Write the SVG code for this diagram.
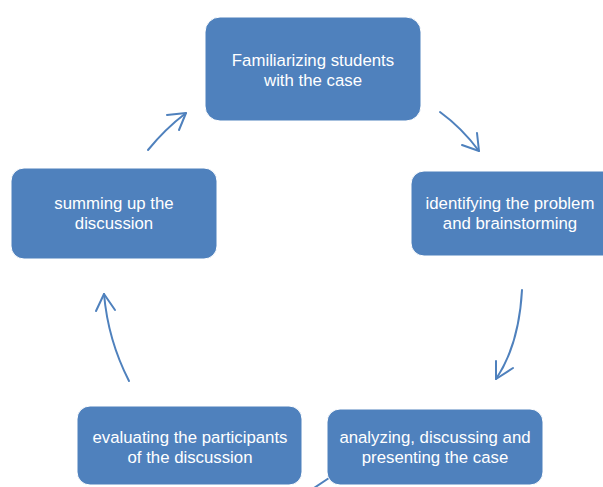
<svg xmlns="http://www.w3.org/2000/svg" width="603" height="487" viewBox="0 0 603 487">
  <defs>
    <style>
      .box { fill: #4F81BD; stroke: #ffffff; stroke-width: 1; }
      .lbl { fill: #ffffff; font-family: "Liberation Sans", Arial, sans-serif; font-size: 16.8px; text-anchor: middle; }
      .arc { fill: none; stroke: #4F81BD; stroke-width: 2; stroke-linecap: round; stroke-linejoin: round; }
    </style>
  </defs>
  <rect width="603" height="487" fill="#ffffff"/>

  <!-- cycle connectors -->
  <g id="connectors">
    <!-- top to right -->
    <path class="arc" d="M440,112 Q462,128 479,151"/>
    <path class="arc" d="M462,145 L479,151 L477,133"/>
    <!-- right to bottom-right -->
    <path class="arc" d="M522,290 Q519,345 496,379"/>
    <path class="arc" d="M496,361 L496,379 L513,368"/>
    <!-- bottom-right to bottom-left (partially visible) -->
    <path class="arc" d="M329,478 L314,488"/>
    <!-- bottom-left to left -->
    <path class="arc" d="M129,381 Q108,340 104,294"/>
    <path class="arc" d="M96,311 L104,294 L115,310"/>
    <!-- left to top -->
    <path class="arc" d="M148,150 Q165,129 186,113"/>
    <path class="arc" d="M167,115 L186,113 L179,130"/>
  </g>

  <g id="node-familiarizing">
    <rect class="box" x="205" y="17" width="216" height="104" rx="15"/>
    <text class="lbl" x="313" y="66">Familiarizing students</text>
    <text class="lbl" x="313" y="85.5">with the case</text>
  </g>

  <g id="node-identifying">
    <rect class="box" x="411" y="171" width="205" height="85" rx="13"/>
    <text class="lbl" x="510" y="209">identifying the problem</text>
    <text class="lbl" x="510" y="229">and brainstorming</text>
  </g>

  <g id="node-analyzing">
    <rect class="box" x="327" y="409" width="216" height="76" rx="13"/>
    <text class="lbl" x="435" y="443">analyzing, discussing and</text>
    <text class="lbl" x="435" y="462.5">presenting the case</text>
  </g>

  <g id="node-evaluating">
    <rect class="box" x="77" y="406" width="225" height="79" rx="13"/>
    <text class="lbl" x="190" y="443">evaluating the participants</text>
    <text class="lbl" x="190" y="462.5">of the discussion</text>
  </g>

  <g id="node-summing">
    <rect class="box" x="11" y="168" width="206" height="91" rx="13"/>
    <text class="lbl" x="114" y="209">summing up the</text>
    <text class="lbl" x="114" y="229">discussion</text>
  </g>
</svg>
